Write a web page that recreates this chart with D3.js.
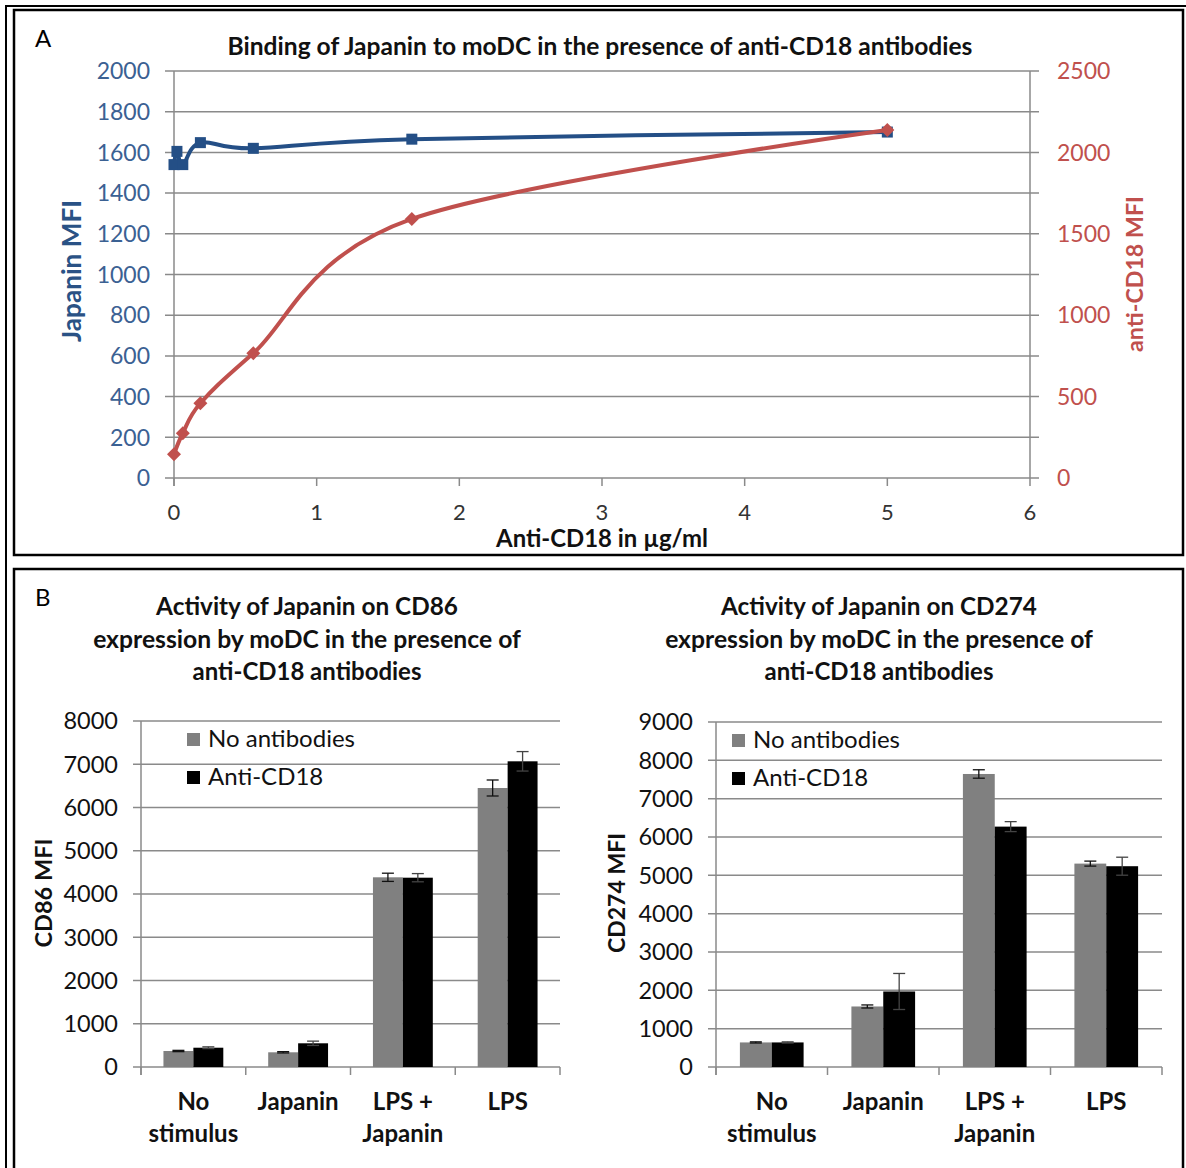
<!DOCTYPE html>
<html><head><meta charset="utf-8">
<script src="https://cdn.jsdelivr.net/npm/d3@7"></script>
<style>
html,body{margin:0;padding:0;background:#fff;}
svg{display:block;font-family:Lato,"Open Sans",sans-serif;}
</style></head>
<body>
<svg id="c" width="1186" height="1168"></svg>
<script>
// ---------- Panel A data ----------
const japaninConc = [0, 0.0206, 0.0617, 0.185, 0.556, 1.667, 5];
const japaninMFI = [1540, 1605, 1540, 1648, 1620, 1665, 1700];
const antiConc = [0, 0.0617, 0.185, 0.556, 1.667, 5];
const antiCD18MFI = [146, 275, 459, 766, 1591, 2138];
const xTicksA = [0, 1, 2, 3, 4, 5, 6];
const leftTicksA = [0, 200, 400, 600, 800, 1000, 1200, 1400, 1600, 1800, 2000];
const rightTicksA = [0, 500, 1000, 1500, 2000, 2500];

// ---------- Panel B data ----------
const categories = ["No stimulus", "Japanin", "LPS + Japanin", "LPS"];
const categoryLines = [["No", "stimulus"], ["Japanin"], ["LPS +", "Japanin"], ["LPS"]];
const seriesNames = ["No antibodies", "Anti-CD18"];
const cd86NoAb = [370, 340, 4386, 6451];
const cd86NoAbErr = [15, 15, 95, 185];
const cd86Anti = [446, 548, 4377, 7068];
const cd86AntiErr = [20, 50, 95, 225];
const cd274NoAb = [641, 1579, 7644, 5306];
const cd274NoAbErr = [15, 40, 110, 65];
const cd274Anti = [641, 1970, 6271, 5238];
const cd274AntiErr = [15, 470, 130, 235];
const cd86Ticks = [0, 1000, 2000, 3000, 4000, 5000, 6000, 7000, 8000];
const cd274Ticks = [0, 1000, 2000, 3000, 4000, 5000, 6000, 7000, 8000, 9000];

const svg = d3.select("#c");
const GRID = "#8a8a8a";
const BLUE = "#244f86", BLUE_T = "#3b6193", BLUE_TITLE = "#2a5285";
const RED = "#c0504d";

function fit(sel, w) {
  const n = sel.node();
  const cur = parseFloat(sel.attr("font-size"));
  const m = n.getComputedTextLength();
  sel.attr("font-size", (cur * w / m).toFixed(2));
  return sel;
}

// ---------- frames ----------
svg.append("path").attr("d", "M6,1168 L6,6 L1190,6").attr("fill", "none").attr("stroke", "#000").attr("stroke-width", 2);
svg.append("rect").attr("x", 14).attr("y", 10).attr("width", 1169).attr("height", 545)
  .attr("fill", "none").attr("stroke", "#000").attr("stroke-width", 2.5);
svg.append("rect").attr("x", 14).attr("y", 569).attr("width", 1169).attr("height", 620)
  .attr("fill", "none").attr("stroke", "#000").attr("stroke-width", 2.5);

svg.append("text").attr("x", 35).attr("y", 47).attr("font-size", 24).attr("fill", "#000").text("A");
svg.append("text").attr("x", 35).attr("y", 606).attr("font-size", 24).attr("fill", "#000").text("B");

// ---------- Panel A ----------
const xA = d3.scaleLinear().domain([0, 6]).range([174, 1030]);
const yL = d3.scaleLinear().domain([0, 2000]).range([478, 71]);
const yR = d3.scaleLinear().domain([0, 2500]).range([478, 71]);

const gA = svg.append("g");
gA.selectAll("line.grid").data(leftTicksA).join("line")
  .attr("x1", xA(0) - 9).attr("x2", xA(6) + 9)
  .attr("y1", d => yL(d)).attr("y2", d => yL(d))
  .attr("stroke", GRID).attr("stroke-width", 1.5);
gA.append("line").attr("x1", xA(0)).attr("x2", xA(0)).attr("y1", yL(2000)).attr("y2", yL(0) + 8)
  .attr("stroke", GRID).attr("stroke-width", 1.5);
gA.append("line").attr("x1", xA(6)).attr("x2", xA(6)).attr("y1", yL(2000)).attr("y2", yL(0))
  .attr("stroke", GRID).attr("stroke-width", 1.5);
gA.selectAll("line.xt").data(xTicksA).join("line")
  .attr("x1", d => xA(d)).attr("x2", d => xA(d)).attr("y1", yL(0)).attr("y2", yL(0) + 8)
  .attr("stroke", GRID).attr("stroke-width", 1.5);

gA.selectAll("text.lt").data(leftTicksA).join("text")
  .attr("x", 150).attr("y", d => yL(d)).attr("dy", "0.36em").attr("text-anchor", "end")
  .attr("font-size", 23).attr("fill", BLUE_T).text(d => d);
gA.selectAll("text.rt").data(rightTicksA).join("text")
  .attr("x", 1057).attr("y", d => yR(d)).attr("dy", "0.36em").attr("text-anchor", "start")
  .attr("font-size", 23).attr("fill", RED).text(d => d);
gA.selectAll("text.xt").data(xTicksA).join("text")
  .attr("x", d => xA(d)).attr("y", 520).attr("text-anchor", "middle")
  .attr("font-size", 22).attr("fill", "#333").text(d => d);

fit(gA.append("text").attr("x", 600).attr("y", 55).attr("text-anchor", "middle")
  .attr("font-size", 20).attr("font-weight", "bold").attr("fill", "#111")
  .text("Binding of Japanin to moDC in the presence of anti-CD18 antibodies"), 745);
fit(gA.append("text").attr("x", 602).attr("y", 547).attr("text-anchor", "middle")
  .attr("font-size", 20).attr("font-weight", "bold").attr("fill", "#111")
  .text("Anti-CD18 in µg/ml"), 212);
fit(gA.append("text").attr("transform", "translate(81,271) rotate(-90)").attr("text-anchor", "middle")
  .attr("font-size", 20).attr("font-weight", "bold").attr("fill", BLUE_TITLE)
  .text("Japanin MFI"), 142);
fit(gA.append("text").attr("transform", "translate(1143,274) rotate(-90)").attr("text-anchor", "middle")
  .attr("font-size", 20).attr("font-weight", "bold").attr("fill", RED)
  .text("anti-CD18 MFI"), 156);

const blueData = japaninConc.map((c, i) => [c, japaninMFI[i]]);
const redData = antiConc.map((c, i) => [c, antiCD18MFI[i]]);
const lineL = d3.line().x(d => xA(d[0])).y(d => yL(d[1])).curve(d3.curveCatmullRom.alpha(0));
const lineR = d3.line().x(d => xA(d[0])).y(d => yR(d[1])).curve(d3.curveCatmullRom.alpha(0));
gA.append("path").attr("d", lineL(blueData)).attr("fill", "none").attr("stroke", BLUE).attr("stroke-width", 4);
gA.selectAll("rect.bm").data(blueData).join("rect")
  .attr("x", d => xA(d[0]) - 5.5).attr("y", d => yL(d[1]) - 5.5).attr("width", 11).attr("height", 11)
  .attr("fill", BLUE);
gA.append("path").attr("d", lineR(redData)).attr("fill", "none").attr("stroke", RED).attr("stroke-width", 4);
gA.selectAll("path.rm").data(redData).join("path")
  .attr("d", d => { const x = xA(d[0]), y = yR(d[1]); return `M${x},${y-7}L${x+7},${y}L${x},${y+7}L${x-7},${y}Z`; })
  .attr("fill", RED);

// ---------- Panel B ----------
function barChart(opt) {
  const g = svg.append("g");
  const x = d3.scaleBand().domain(categories).range([opt.x0, opt.x1]).paddingInner(0).paddingOuter(0);
  const y = d3.scaleLinear().domain([0, opt.max]).range([1067, opt.yTop]);
  const bw = x.bandwidth() / 3.5;
  g.selectAll("line.grid").data(opt.ticks).join("line")
    .attr("x1", opt.x0 - 8).attr("x2", opt.x1).attr("y1", d => y(d)).attr("y2", d => y(d))
    .attr("stroke", GRID).attr("stroke-width", 1.5);
  g.append("line").attr("x1", opt.x0).attr("x2", opt.x0).attr("y1", y(opt.max)).attr("y2", 1075)
    .attr("stroke", GRID).attr("stroke-width", 1.5);
  const bounds = categories.map(c => x(c)).concat([opt.x1]);
  g.selectAll("line.ct").data(bounds).join("line")
    .attr("x1", d => d).attr("x2", d => d).attr("y1", 1067).attr("y2", 1075)
    .attr("stroke", GRID).attr("stroke-width", 1.5);
  g.selectAll("text.yt").data(opt.ticks).join("text")
    .attr("x", opt.x0 - 23).attr("y", d => y(d)).attr("dy", "0.36em").attr("text-anchor", "end")
    .attr("font-size", 23.5).attr("fill", "#111").text(d => d);
  const series = [
    { v: opt.a, e: opt.ae, color: "#808080", off: 0 },
    { v: opt.b, e: opt.be, color: "#000000", off: 1 }
  ];
  series.forEach(s => {
    categories.forEach((c, i) => {
      const cx = x(c) + x.bandwidth() / 2 - bw + s.off * bw;
      g.append("rect").attr("x", cx).attr("y", y(s.v[i])).attr("width", bw).attr("height", y(0) - y(s.v[i]))
        .attr("fill", s.color);
    });
  });
  series.forEach(s => {
    categories.forEach((c, i) => {
      const mx = x(c) + x.bandwidth() / 2 - bw + s.off * bw + bw / 2;
      const hi = y(s.v[i] + s.e[i]), lo = y(s.v[i] - s.e[i]);
      const col = s.off === 0 ? "#111" : "#444";
      g.append("line").attr("x1", mx).attr("x2", mx).attr("y1", hi).attr("y2", lo).attr("stroke", col).attr("stroke-width", 1.3);
      g.append("line").attr("x1", mx - 6).attr("x2", mx + 6).attr("y1", hi).attr("y2", hi).attr("stroke", col).attr("stroke-width", 1.3);
      g.append("line").attr("x1", mx - 6).attr("x2", mx + 6).attr("y1", lo).attr("y2", lo).attr("stroke", col).attr("stroke-width", 1.3);
    });
  });
  categories.forEach((c, i) => {
    const cx = x(c) + x.bandwidth() / 2;
    categoryLines[i].forEach((t, j) => {
      g.append("text").attr("x", cx).attr("y", 1110 + j * 32).attr("text-anchor", "middle")
        .attr("font-size", 24).attr("font-weight", "bold").attr("fill", "#111").text(t);
    });
  });
  [["#808080", seriesNames[0]], ["#000000", seriesNames[1]]].forEach((l, i) => {
    g.append("rect").attr("x", opt.legX).attr("y", opt.legY + i * 38).attr("width", 13).attr("height", 13).attr("fill", l[0]);
    g.append("text").attr("x", opt.legX + 21).attr("y", opt.legY + 14 + i * 38).attr("font-size", 24)
      .attr("fill", "#111").text(l[1]);
  });
  opt.title.forEach((t, j) => {
    fit(g.append("text").attr("x", opt.tx).attr("y", 615 + j * 32.5).attr("text-anchor", "middle")
      .attr("font-size", 20).attr("font-weight", "bold").attr("fill", "#111").text(t), opt.tw[j]);
  });
  fit(g.append("text").attr("transform", `translate(${opt.ylx},${893}) rotate(-90)`).attr("text-anchor", "middle")
    .attr("font-size", 20).attr("font-weight", "bold").attr("fill", "#111").text(opt.ylabel), opt.ylw);
}

barChart({
  x0: 141, x1: 560, yTop: 721, max: 8000, ticks: cd86Ticks,
  a: cd86NoAb, ae: cd86NoAbErr, b: cd86Anti, be: cd86AntiErr,
  legX: 187, legY: 733,
  title: ["Activity of Japanin on CD86", "expression by moDC in the presence of", "anti-CD18 antibodies"],
  tw: [302, 428, 229], tx: 307,
  ylabel: "CD86 MFI", ylx: 52, ylw: 109
});
barChart({
  x0: 716, x1: 1162, yTop: 722, max: 9000, ticks: cd274Ticks,
  a: cd274NoAb, ae: cd274NoAbErr, b: cd274Anti, be: cd274AntiErr,
  legX: 732, legY: 734,
  title: ["Activity of Japanin on CD274", "expression by moDC in the presence of", "anti-CD18 antibodies"],
  tw: [316, 428, 229], tx: 879,
  ylabel: "CD274 MFI", ylx: 625, ylw: 120
});
</script>
</body></html>
